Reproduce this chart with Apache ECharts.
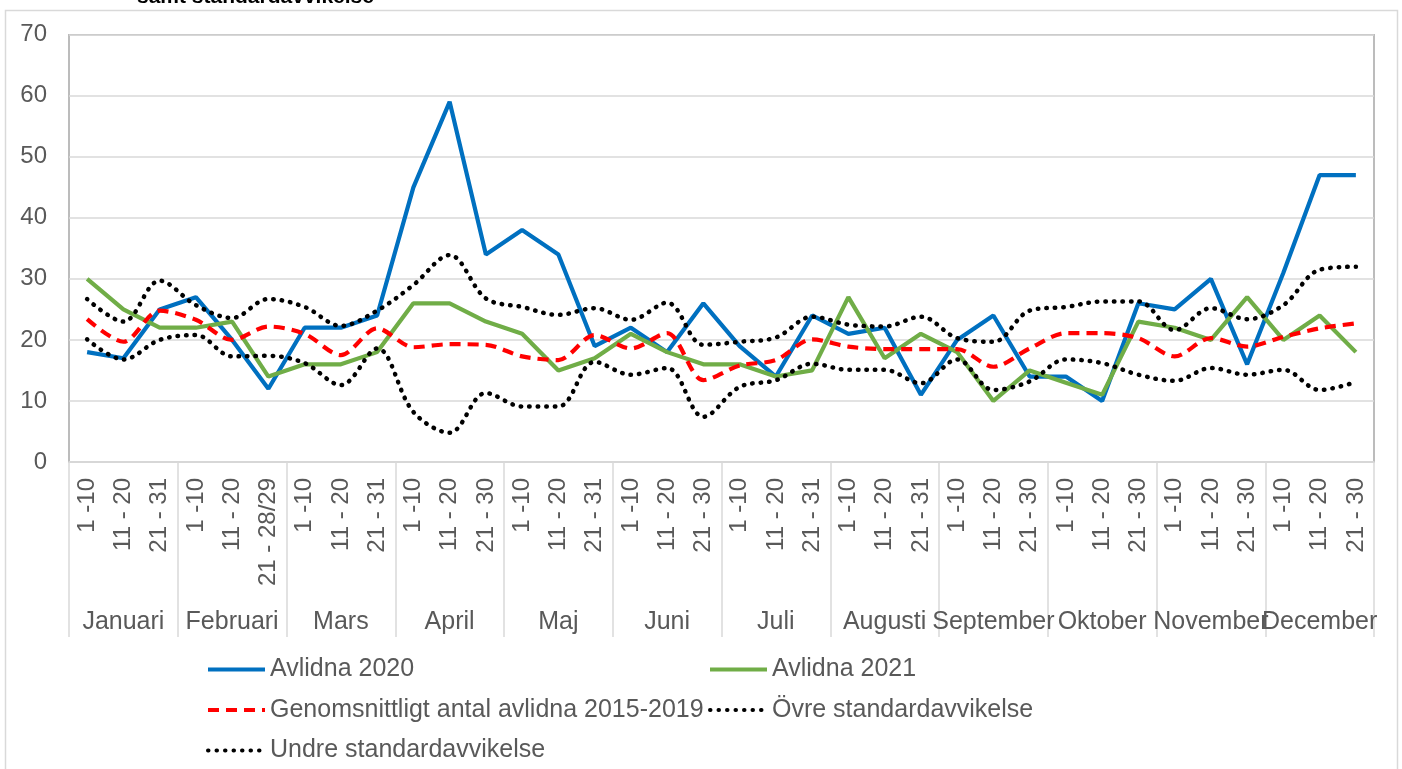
<!DOCTYPE html>
<html>
<head>
  <meta charset="UTF-8">
  <title>Avlidna per tiodagarsperiod</title>
  <script src="https://cdn.jsdelivr.net/npm/echarts@6/dist/echarts.min.js"></script>
  <style type="text/css">
  html, body { margin: 0; padding: 0; background: #ffffff; }
  #chart { width: 1402px; height: 769px; }
  </style>
</head>
<body>
  <div id="chart"></div>

  <script>
    // period labels, three per month
    var periods = [
      '1 -10', '11 - 20', '21 - 31',
      '1 -10', '11 - 20', '21 - 28/29',
      '1 -10', '11 - 20', '21 - 31',
      '1 -10', '11 - 20', '21 - 30',
      '1 -10', '11 - 20', '21 - 31',
      '1 -10', '11 - 20', '21 - 30',
      '1 -10', '11 - 20', '21 - 31',
      '1 -10', '11 - 20', '21 - 31',
      '1 -10', '11 - 20', '21 - 30',
      '1 -10', '11 - 20', '21 - 30',
      '1 -10', '11 - 20', '21 - 30',
      '1 -10', '11 - 20', '21 - 30'
    ];
    var months = ['Januari', 'Februari', 'Mars', 'April', 'Maj', 'Juni', 'Juli',
      'Augusti', 'September', 'Oktober', 'November', 'December'];

    var avlidna2020 = [18, 17, 25, 27, 20, 12, 22, 22, 24, 45, 59, 34, 38, 34, 19, 22, 18, 26,
      19, 14, 24, 21, 22, 11, 20, 24, 14, 14, 10, 26, 25, 30, 16, 31, 47, 47];
    var avlidna2021 = [30, 25, 22, 22, 23, 14, 16, 16, 18, 26, 26, 23, 21, 15, 17, 21, 18, 16,
      16, 14, 15, 27, 17, 21, 18, 10, 15, 13, 11, 23, 22, 20, 27, 20, 24, 18];
    var medel = [23.4, 19.7, 24.8, 23.3, 20.0, 22.2, 21.0, 17.5, 21.9, 18.8, 19.3, 19.2,
      17.3, 16.7, 20.8, 18.6, 21.1, 13.4, 15.8, 16.7, 20.1, 18.9, 18.5, 18.5,
      18.5, 15.6, 18.6, 21.1, 21.1, 20.3, 17.3, 20.3, 18.9, 20.5, 21.9, 22.7];
    var ovre = [26.7, 23.0, 29.7, 25.7, 23.6, 26.7, 25.4, 22.3, 24.8, 29.0, 33.9, 26.8,
      25.4, 24.1, 25.2, 23.3, 26.1, 19.2, 19.7, 20.4, 23.8, 22.5, 22.2, 23.8,
      20.3, 19.7, 24.8, 25.4, 26.3, 26.3, 21.6, 25.2, 23.4, 25.7, 31.5, 32.0];
    var undre = [20.1, 16.8, 20.0, 20.8, 17.3, 17.4, 16.2, 12.6, 18.6, 8.2, 4.8, 11.3,
      9.1, 9.1, 16.4, 14.3, 15.4, 7.4, 12.3, 13.4, 16.1, 15.1, 15.1, 12.9,
      16.8, 11.8, 13.2, 16.8, 16.2, 14.3, 13.3, 15.4, 14.3, 15.1, 11.8, 13.1];

    var font = "'Liberation Sans', Arial, sans-serif";
    var grey = '#595959';

    var chart = echarts.init(document.getElementById('chart'), null, {renderer: 'canvas'});

    var dots = {color: '#000000', width: 4.5, type: [0.5, 8], cap: 'round'};

    function legendBox(left, names) {
      return {
        left: left, top: 657, orient: 'vertical', itemGap: 15.5, padding: 0,
        height: 120, itemWidth: 57, itemHeight: 14,
        itemStyle: {opacity: 0},
        lineStyle: {width: 4},
        textStyle: {fontSize: 25, color: grey, fontFamily: font},
        data: names
      };
    }

    chart.setOption({
      animation: false,
      textStyle: {fontFamily: font},
      graphic: [
        {
          type: 'rect', silent: true, z: -10,
          shape: {x: 5.5, y: 10.5, width: 1392, height: 770},
          style: {fill: '#ffffff', stroke: '#d9d9d9', lineWidth: 1.5}
        },
        {
          type: 'text', left: 137, top: -13,
          style: {text: 'samt standardavvikelse', font: 'bold 21px ' + font, fill: '#000000'}
        }
      ],
      grid: {
        left: 69, right: 28, top: 34.7, bottom: 307,
        show: true, borderColor: '#a6a6a6', borderWidth: 1.5
      },
      legend: [
        legendBox(206, ['Avlidna 2020', 'Genomsnittligt antal avlidna 2015-2019', 'Undre standardavvikelse']),
        legendBox(708, ['Avlidna 2021', 'Övre standardavvikelse'])
      ],
      xAxis: [
        {
          type: 'category', data: periods, boundaryGap: true,
          axisLine: {lineStyle: {color: '#d9d9d9', width: 1.5}},
          axisTick: {show: false},
          axisLabel: {interval: 0, rotate: 90, margin: 16, fontSize: 24, color: grey, fontFamily: font}
        },
        {
          type: 'category', data: months, position: 'bottom', offset: 0, boundaryGap: true,
          axisLine: {show: false},
          axisTick: {show: true, interval: 0, length: 175, lineStyle: {color: '#d9d9d9', width: 1.5}},
          axisLabel: {interval: 0, margin: 148, fontSize: 25, color: grey, fontFamily: font}
        }
      ],
      yAxis: {
        type: 'value', min: 0, max: 70, interval: 10,
        axisLine: {show: false},
        axisTick: {show: false},
        splitLine: {lineStyle: {color: '#d9d9d9', width: 1.5}},
        axisLabel: {margin: 22, fontSize: 24, color: grey, fontFamily: font}
      },
      series: [
        {
          name: 'Avlidna 2020', type: 'line', data: avlidna2020, symbol: 'none',
          lineStyle: {color: '#0070c0', width: 4.2}, itemStyle: {color: '#0070c0'}
        },
        {
          name: 'Avlidna 2021', type: 'line', data: avlidna2021, symbol: 'none',
          lineStyle: {color: '#70ad47', width: 4.2}, itemStyle: {color: '#70ad47'}
        },
        {
          name: 'Genomsnittligt antal avlidna 2015-2019', type: 'line', data: medel, symbol: 'none',
          smooth: 0.3,
          lineStyle: {color: '#ff0000', width: 4.2, type: [11, 7]}, itemStyle: {color: '#ff0000'}
        },
        {
          name: 'Övre standardavvikelse', type: 'line', data: ovre, symbol: 'none',
          smooth: 0.35, lineStyle: dots, itemStyle: {color: '#000000'}
        },
        {
          name: 'Undre standardavvikelse', type: 'line', data: undre, symbol: 'none',
          smooth: 0.35, lineStyle: dots, itemStyle: {color: '#000000'}
        }
      ]
    });
  </script>
</body>
</html>
